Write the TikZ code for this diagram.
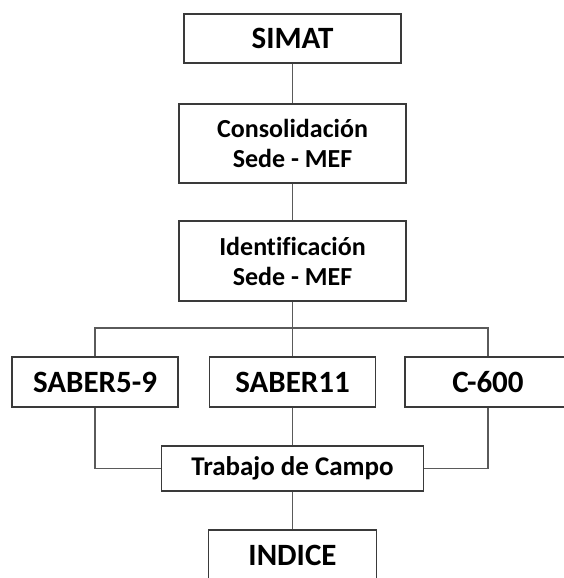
\documentclass[tikz,border=0pt]{standalone}
\usepackage{fontspec}
\setmainfont{Carlito}[Ligatures=NoCommon]
\usepackage{tikz}

\definecolor{boxline}{HTML}{3A3A3A}
\definecolor{linkline}{HTML}{5A5A5A}

\tikzset{
  bigbox/.style={draw=boxline, line width=1.2pt, fill=white, inner sep=0pt,
    minimum width=166pt, minimum height=50pt,
    font=\fontsize{31}{36}\selectfont\bfseries},
  twobox/.style={draw=boxline, line width=1.2pt, fill=white, inner sep=0pt,
    minimum width=227pt, minimum height=79pt, align=center,
    font=\fontsize{26}{30}\selectfont\bfseries},
  link/.style={draw=linkline, line width=1.2pt}
}

\begin{document}
\begin{tikzpicture}[x=1pt, y=-1pt]
    \useasboundingbox (0,0) rectangle (563,578);

    \node[bigbox, minimum width=217pt, minimum height=49pt] (simat) at (292.5,38.5) {SIMAT};
    \node[twobox] (consol) at (292.5,143.5) {Consolidación\\Sede - MEF};
    \node[twobox, minimum height=80pt] (ident) at (292.5,261) {Identificación\\Sede - MEF};

    \node[bigbox] (saberA) at (95,382) {SABER5-9};
    \node[bigbox] (saberB) at (292.5,382) {SABER11};
    \node[bigbox] (csix) at (488,382) {C-600};

    \node[bigbox, minimum width=262pt, minimum height=45pt,
          font=\fontsize{27}{32}\selectfont\bfseries] (campo) at (292.5,468.5) {Trabajo de Campo};
    \node[bigbox, minimum width=168pt] (indice) at (292.5,555) {INDICE};

    \coordinate (split) at (292.5,328);

    \draw[link] (simat) -- (consol);
    \draw[link] (consol) -- (ident);
    \draw[link] (ident) -- (split);
    \draw[link] (saberA.north) |- (split) -| (csix.north);
    \draw[link] (split) -- (saberB);

    \draw[link] (saberA.south) |- (campo.west);
    \draw[link] (csix.south) |- (campo.east);
    \draw[link] (saberB) -- (campo);
    \draw[link] (campo) -- (indice);
\end{tikzpicture}
\end{document}
